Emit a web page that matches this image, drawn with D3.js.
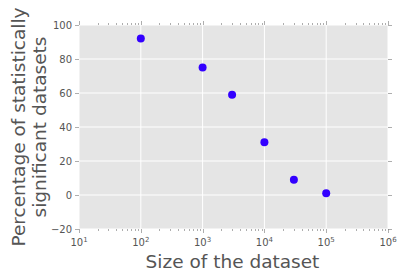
<!DOCTYPE html>
<html><head><meta charset="utf-8">
<script src="https://cdn.jsdelivr.net/npm/d3@7/dist/d3.min.js"></script>
<style>body{margin:0;background:#fff;}svg{display:block;font-family:"DejaVu Sans",sans-serif;}</style>
</head><body><svg id="c" width="414" height="278"></svg>
<script>
const sizes = [100, 1000, 3000, 10000, 30000, 100000];
const percents = [92, 75, 59, 31, 9, 1];
const xTickExps = [1, 2, 3, 4, 5, 6];
const yTicks = [-20, 0, 20, 40, 60, 80, 100];
const xLabel = "Size of the dataset";
const yLabelLines = ["Percentage of statistically", "significant datasets"];

const svg = d3.select("#c");
const L = 79, R = 388, T = 25, B = 229;
const x = d3.scaleLog().domain([10, 1e6]).range([L, R]);
const y = d3.scaleLinear().domain([-20, 100]).range([B, T]);

svg.append("rect").attr("x", L).attr("y", T).attr("width", R - L).attr("height", B - T).attr("fill", "#e5e5e5");

// grid
svg.append("g").selectAll("line").data(xTickExps).join("line")
  .attr("x1", d => x(Math.pow(10, d))).attr("x2", d => x(Math.pow(10, d)))
  .attr("y1", T).attr("y2", B).attr("stroke", "#fff").attr("stroke-width", 1);
svg.append("g").selectAll("line").data(yTicks).join("line")
  .attr("x1", L).attr("x2", R).attr("y1", d => y(d)).attr("y2", d => y(d))
  .attr("stroke", "#fff").attr("stroke-width", 1);

// minor ticks for log x
const minor = [];
for (let e = 1; e < 6; e++) for (let m = 2; m <= 9; m++) minor.push(m * Math.pow(10, e));
const tickCol = "#777";
[B, T].forEach((yy, i) => {
  const dir = i === 0 ? 1 : -1;
  svg.append("g").selectAll("line").data(minor).join("line")
    .attr("x1", d => Math.round(x(d)) + 0.5).attr("x2", d => Math.round(x(d)) + 0.5)
    .attr("y1", yy).attr("y2", yy + dir * 2).attr("stroke", tickCol).attr("stroke-width", 0.6);
  svg.append("g").selectAll("line").data(xTickExps).join("line")
    .attr("x1", d => Math.round(x(Math.pow(10, d))) + 0.5).attr("x2", d => Math.round(x(Math.pow(10, d))) + 0.5)
    .attr("y1", yy).attr("y2", yy + dir * 4).attr("stroke", tickCol).attr("stroke-width", 0.6);
});
[L, R].forEach((xx, i) => {
  const dir = i === 0 ? -1 : 1;
  svg.append("g").selectAll("line").data(yTicks).join("line")
    .attr("x1", xx).attr("x2", xx + dir * 4)
    .attr("y1", d => Math.round(y(d)) + 0.5).attr("y2", d => Math.round(y(d)) + 0.5)
    .attr("stroke", tickCol).attr("stroke-width", 0.6);
});

// tick labels
const xl = svg.append("g").selectAll("text").data(xTickExps).join("text")
  .attr("x", d => x(Math.pow(10, d))).attr("y", 246)
  .attr("text-anchor", "middle").attr("font-size", 10).attr("fill", "#555");
xl.append("tspan").text("10");
xl.append("tspan").attr("dy", -4).attr("font-size", 7).text(d => d);

svg.append("g").selectAll("text").data(yTicks).join("text")
  .attr("x", L - 7).attr("y", d => y(d) + 3.5)
  .attr("text-anchor", "end").attr("font-size", 10).attr("fill", "#555")
  .text(d => d < 0 ? "\u2212" + Math.abs(d) : d);

// points
svg.append("g").selectAll("circle").data(sizes).join("circle")
  .attr("cx", d => x(d)).attr("cy", (d, i) => y(percents[i])).attr("r", 4)
  .attr("fill", "#3300ff");

// axis labels
svg.append("text").attr("x", (L + R) / 2 - 1).attr("y", 268).attr("text-anchor", "middle")
  .attr("font-size", 18.5).attr("fill", "#555").text(xLabel);
const yl = svg.append("text").attr("transform", `translate(0,${(T + B) / 2}) rotate(-90)`)
  .attr("text-anchor", "middle").attr("font-size", 18.5).attr("fill", "#555");
yLabelLines.forEach((t, i) => yl.append("tspan").attr("x", 0).attr("y", 24.5 + i * 21).text(t));
</script></body></html>
